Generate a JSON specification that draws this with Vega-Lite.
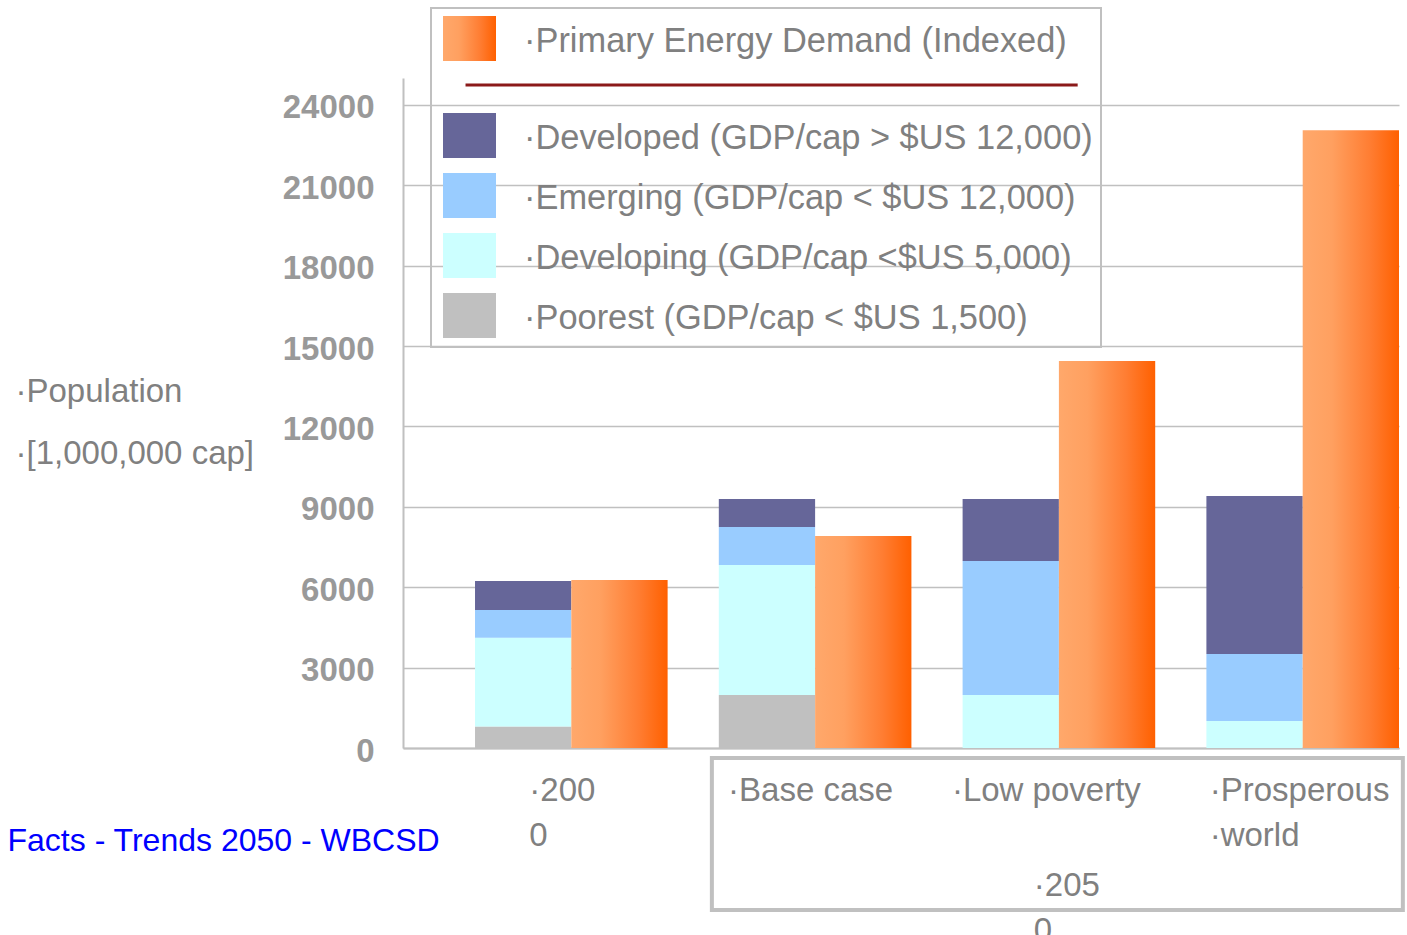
{
  "$schema": "https://vega.github.io/schema/vega-lite/v6.json",
  "width": 996,
  "height": 670,
  "autosize": {"type": "none"},
  "padding": {"left": 403, "top": 78, "right": 8, "bottom": 187},
  "background": "white",
  "config": {"view": {"stroke": null}, "font": "Liberation Sans"},
  "layer": [
    {
      "data": {
        "values": [
          {"group": "2000", "kind": "pop", "series": "Poorest (GDP/cap < $US 1,500)", "rank": 1, "value": 800},
          {"group": "2000", "kind": "pop", "series": "Developing (GDP/cap <$US 5,000)", "rank": 2, "value": 3310},
          {"group": "2000", "kind": "pop", "series": "Emerging (GDP/cap < $US 12,000)", "rank": 3, "value": 1040},
          {"group": "2000", "kind": "pop", "series": "Developed (GDP/cap > $US 12,000)", "rank": 4, "value": 1080},
          {"group": "Base case", "kind": "pop", "series": "Poorest (GDP/cap < $US 1,500)", "rank": 1, "value": 1980},
          {"group": "Base case", "kind": "pop", "series": "Developing (GDP/cap <$US 5,000)", "rank": 2, "value": 4850},
          {"group": "Base case", "kind": "pop", "series": "Emerging (GDP/cap < $US 12,000)", "rank": 3, "value": 1415},
          {"group": "Base case", "kind": "pop", "series": "Developed (GDP/cap > $US 12,000)", "rank": 4, "value": 1045},
          {"group": "Low poverty", "kind": "pop", "series": "Developing (GDP/cap <$US 5,000)", "rank": 2, "value": 1980},
          {"group": "Low poverty", "kind": "pop", "series": "Emerging (GDP/cap < $US 12,000)", "rank": 3, "value": 5000},
          {"group": "Low poverty", "kind": "pop", "series": "Developed (GDP/cap > $US 12,000)", "rank": 4, "value": 2310},
          {"group": "Prosperous world", "kind": "pop", "series": "Developing (GDP/cap <$US 5,000)", "rank": 2, "value": 1005},
          {"group": "Prosperous world", "kind": "pop", "series": "Emerging (GDP/cap < $US 12,000)", "rank": 3, "value": 2500},
          {"group": "Prosperous world", "kind": "pop", "series": "Developed (GDP/cap > $US 12,000)", "rank": 4, "value": 5895}
        ]
      },
      "mark": {"type": "bar"},
      "encoding": {
        "x": {
          "field": "group",
          "type": "nominal",
          "sort": null,
          "scale": {
            "domain": ["2000", "Base case", "Low poverty", "Prosperous world"],
            "paddingInner": 0.21,
            "paddingOuter": 0.1477,
            "align": 1
          },
          "axis": {
            "title": "Facts - Trends 2050 - WBCSD",
            "titleColor": "#0000ff",
            "titleFontSize": 32,
            "titleFontWeight": "normal",
            "titleAlign": "left",
            "titleBaseline": "alphabetic",
            "titleX": -396,
            "titleY": 102,
            "labelExpr": "datum.value === '2000' ? ['·200', '0'] : datum.value === 'Prosperous world' ? ['·Prosperous', '·world'] : '·' + datum.value",
            "labelAngle": 0,
            "labelAlign": "left",
            "labelOffset": {"expr": "datum.value === '2000' ? -42 : datum.value === 'Base case' ? -87 : datum.value === 'Low poverty' ? -107 : -93"},
            "labelFontSize": 33,
            "labelColor": "#808080",
            "labelBaseline": "top",
            "labelPadding": 26,
            "labelLineHeight": 45,
            "labelLimit": 400,
            "labelOverlap": false,
            "ticks": false,
            "domainColor": "#c0c0c0",
            "domainWidth": 2,
            "grid": false
          }
        },
        "xOffset": {
          "field": "kind",
          "type": "nominal",
          "scale": {"domain": ["pop", "energy"], "paddingInner": 0, "paddingOuter": 0}
        },
        "y": {
          "field": "value",
          "type": "quantitative",
          "stack": "zero",
          "scale": {"domain": [0, 25000], "nice": false, "zero": true},
          "axis": {
            "title": ["·Population", "·[1,000,000 cap]"],
            "titleAngle": 0,
            "titleAlign": "left",
            "titleBaseline": "alphabetic",
            "titleX": -388,
            "titleY": 323,
            "titleLineHeight": 62,
            "titleFontSize": 33,
            "titleFontWeight": "normal",
            "titleColor": "#808080",
            "values": [0, 3000, 6000, 9000, 12000, 15000, 18000, 21000, 24000],
            "format": "d",
            "labelFontSize": 33,
            "labelFontWeight": "bold",
            "labelColor": "#999999",
            "labelPadding": 29,
            "labelOffset": 3,
            "ticks": false,
            "grid": true,
            "gridColor": "#c0c0c0",
            "gridWidth": 1.5,
            "domainColor": "#c0c0c0",
            "domainWidth": 2
          }
        },
        "color": {
          "field": "series",
          "type": "nominal",
          "scale": {
            "domain": [
              "Primary Energy Demand (Indexed)",
              "sep",
              "Developed (GDP/cap > $US 12,000)",
              "Emerging (GDP/cap < $US 12,000)",
              "Developing (GDP/cap <$US 5,000)",
              "Poorest (GDP/cap < $US 1,500)"
            ],
            "range": [
              {"expr": "{gradient: 'linear', x1: 0, y1: 0, x2: 1, y2: 0, stops: [{offset: 0, color: '#ffa86b'}, {offset: 0.3, color: '#ffa060'}, {offset: 0.7, color: '#ff7d32'}, {offset: 1, color: '#ff6000'}]}"},
              "transparent",
              "#666699",
              "#99ccff",
              "#ccffff",
              "#c0c0c0"
            ]
          },
          "legend": {
            "title": null,
            "orient": "none",
            "legendX": 28,
            "legendY": -70,
            "direction": "vertical",
            "symbolSize": 2809,
            "symbolStrokeWidth": 3,
            "rowPadding": 13,
            "padding": 8,
            "labelFontSize": 34.4,
            "labelColor": "#808080",
            "labelLimit": 1000,
            "labelOffset": 29,
            "strokeColor": "#c0c0c0",
            "labelExpr": "datum.value === 'sep' ? '' : '·' + datum.label",
            "encode": {
              "symbols": {
                "update": {
                  "shape": {"signal": "datum.value === 'sep' ? 'M-0.15,0H22.95' : 'M-1,-0.85H1V0.85H-1Z'"},
                  "stroke": {"signal": "datum.value === 'sep' ? '#8b1a1a' : null"},
                  "strokeWidth": {"value": 3},
                  "x": {"value": 30.5},
                  "y": {"signal": "datum.value === 'sep' ? 10 : 22.5"}
                }
              },
              "labels": {
                "update": {
                  "fontSize": {"signal": "datum.value === 'sep' ? 12 : 34.4"},
                  "y": {"signal": "datum.value === 'sep' ? 17.4 : 26"}
                }
              },
              "legend": {
                "update": {
                  "stroke": {"value": "#c0c0c0"},
                  "strokeWidth": {"value": 2}
                }
              }
            }
          }
        },
        "order": {"field": "rank", "type": "quantitative"}
      }
    },
    {
      "data": {
        "values": [
          {"group": "2000", "kind": "energy", "series": "Primary Energy Demand (Indexed)", "value": 6270},
          {"group": "Base case", "kind": "energy", "series": "Primary Energy Demand (Indexed)", "value": 7910},
          {"group": "Low poverty", "kind": "energy", "series": "Primary Energy Demand (Indexed)", "value": 14440},
          {"group": "Prosperous world", "kind": "energy", "series": "Primary Energy Demand (Indexed)", "value": 23050}
        ]
      },
      "mark": {
        "type": "bar",
        "color": {
          "gradient": "linear",
          "x1": 0, "y1": 0, "x2": 1, "y2": 0,
          "stops": [
            {"offset": 0, "color": "#ffa86b"},
            {"offset": 0.3, "color": "#ffa060"},
            {"offset": 0.7, "color": "#ff7d32"},
            {"offset": 1, "color": "#ff6000"}
          ]
        }
      },
      "encoding": {
        "x": {"field": "group", "type": "nominal", "sort": null},
        "xOffset": {"field": "kind", "type": "nominal"},
        "y": {"field": "value", "type": "quantitative", "stack": null}
      }
    },
    {
      "data": {"values": [{"label": "2050"}]},
      "mark": {"type": "rect", "filled": false, "color": "#c0c0c0", "strokeWidth": 4},
      "encoding": {
        "x": {"datum": "Base case", "type": "nominal", "bandPosition": -0.036},
        "x2": {"datum": "Prosperous world", "bandPosition": 1.02},
        "y": {"datum": -373, "type": "quantitative"},
        "y2": {"datum": -6048}
      }
    },
    {
      "data": {"values": [{"label": "2050"}]},
      "mark": {
        "type": "text",
        "text": ["·205", "0"],
        "align": "left",
        "baseline": "alphabetic",
        "fontSize": 33,
        "color": "#808080",
        "lineHeight": 45
      },
      "encoding": {
        "x": {"datum": "Low poverty", "type": "nominal", "bandPosition": 0.37},
        "y": {"datum": -5522, "type": "quantitative"}
      }
    }
  ]
}
